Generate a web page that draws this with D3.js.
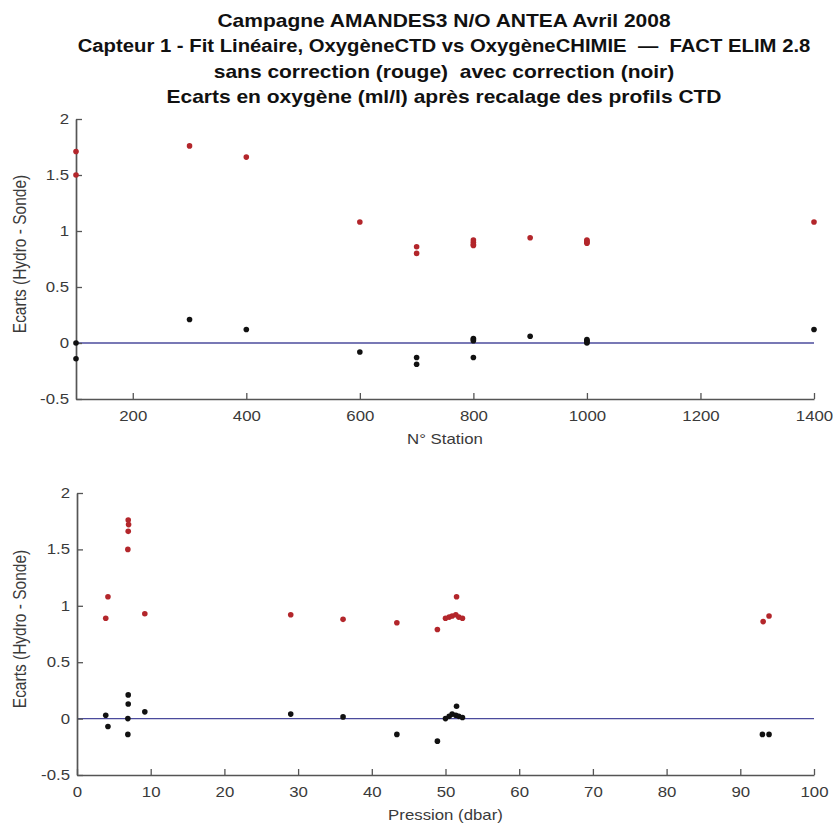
<!DOCTYPE html>
<html>
<head>
<meta charset="utf-8">
<script src="https://d3js.org/d3.v7.min.js"></script>
<style>
  body { margin: 0; background: #fff; }
  text { font-family: "Liberation Sans", Arial, sans-serif; white-space: pre; }
  .title { font-weight: bold; font-size: 17.5px; fill: #111; }
  .tick text { font-size: 14px; fill: #3a3a3a; }
  .axlabel { font-size: 14px; fill: #3a3a3a; }
</style>
</head>
<body>
<div id="chart"></div>
<script>
// titles
var titleLines = [
  "Campagne AMANDES3 N/O ANTEA Avril 2008",
  "Capteur 1 - Fit Linéaire, OxygèneCTD vs OxygèneCHIMIE  —  FACT ELIM 2.8",
  "sans correction (rouge)  avec correction (noir)",
  "Ecarts en oxygène (ml/l) après recalage des profils CTD"
];

// top panel: ecarts vs station number
var stationRed = [
  [100, 1.71], [100, 1.50], [300, 1.76], [400, 1.66], [600, 1.08],
  [700, 0.86], [700, 0.80], [800, 0.92], [800, 0.90], [800, 0.88], [800, 0.87],
  [900, 0.94], [1000, 0.92], [1000, 0.90], [1000, 0.89], [1000, 0.91], [1400, 1.08]
];
var stationBlack = [
  [100, 0.0], [100, -0.14], [300, 0.21], [400, 0.12], [600, -0.08],
  [700, -0.13], [700, -0.19], [800, 0.04], [800, 0.03], [800, 0.02], [800, -0.13],
  [900, 0.06], [1000, 0.03], [1000, 0.02], [1000, 0.01], [1000, 0.0], [1400, 0.12]
];

// bottom panel: ecarts vs pressure
var pressRed = [
  [6.95, 1.76], [7.0, 1.72], [6.95, 1.66], [6.9, 1.50], [4.2, 1.08], [3.9, 0.89], [9.2, 0.93],
  [29.0, 0.92], [36.1, 0.88], [43.4, 0.85], [48.9, 0.79], [51.5, 1.08],
  [50.0, 0.89], [50.5, 0.90], [50.9, 0.91], [51.4, 0.92], [51.8, 0.90], [52.3, 0.89],
  [93.1, 0.86], [93.9, 0.91]
];
var pressBlack = [
  [6.95, 0.21], [6.95, 0.13], [6.9, 0.0], [6.9, -0.14], [3.9, 0.03], [4.2, -0.07], [9.2, 0.06],
  [29.0, 0.04], [36.1, 0.015], [43.4, -0.14], [48.9, -0.20], [51.5, 0.11],
  [50.0, 0.0], [50.5, 0.02], [50.9, 0.04], [51.4, 0.03], [51.8, 0.02], [52.3, 0.01],
  [93.0, -0.14], [93.9, -0.14]
];

var yTicks = [-0.5, 0, 0.5, 1, 1.5, 2];
var stationTicks = [200, 400, 600, 800, 1000, 1200, 1400];
var pressTicks = [0, 10, 20, 30, 40, 50, 60, 70, 80, 90, 100];

var W = 833, H = 825;
var SX = 1.2; // the reference text is wide, stretch it horizontally
var svg = d3.select("#chart").append("svg")
    .attr("width", W).attr("height", H);

svg.selectAll(".title")
    .data(titleLines)
  .enter().append("text")
    .attr("class", "title")
    .attr("transform", function(d, i) {
        return "translate(444," + (27 + i * 25.3) + ") scale(" + (i == 1 ? 1.16 : SX) + ",1)";
    })
    .attr("text-anchor", "middle")
    .text(function(d) { return d; });

// move x/y of tick text into a transform so it can be stretched
function stretchTicks(axisG) {
    axisG.selectAll(".tick text").each(function() {
        var t = d3.select(this);
        var tx = +t.attr("x") || 0, ty = +t.attr("y") || 0;
        t.attr("x", null).attr("y", null)
         .attr("transform", "translate(" + tx + "," + ty + ") scale(" + SX + ",1)");
    });
}

function panel(opts) {
    var x = d3.scaleLinear().domain(opts.xDomain).range([opts.left, opts.right]);
    var y = d3.scaleLinear().domain([-0.5, 2]).range([opts.bottom, opts.top]);
    var g = svg.append("g");

    // zero line
    g.append("line")
        .attr("x1", x(opts.xDomain[0])).attr("x2", x(opts.xDomain[1]))
        .attr("y1", y(0)).attr("y2", y(0))
        .attr("stroke", "#4b4b9c").attr("stroke-width", 1.3);

    var xAxis = g.append("g")
        .attr("transform", "translate(0," + opts.bottom + ")")
        .call(d3.axisBottom(x).tickValues(opts.xTicks).tickSizeInner(-6).tickSizeOuter(0)
              .tickPadding(12).tickFormat(function(d) { return String(d); }));
    var yAxis = g.append("g")
        .attr("transform", "translate(" + opts.left + ",0)")
        .call(d3.axisLeft(y).tickValues(yTicks).tickSizeInner(-6).tickSizeOuter(0)
              .tickPadding(7).tickFormat(function(d) { return String(d); }));
    [xAxis, yAxis].forEach(function(a) {
        a.select(".domain").attr("stroke", "#555").attr("stroke-width", 1.7);
        a.selectAll(".tick line").attr("stroke", "#555").attr("stroke-width", 1.3);
        stretchTicks(a);
    });

    g.selectAll(".red").data(opts.red).enter().append("circle")
        .attr("cx", function(d) { return x(d[0]); })
        .attr("cy", function(d) { return y(d[1]); })
        .attr("r", 2.8).attr("fill", "#b3262b");
    g.selectAll(".blk").data(opts.black).enter().append("circle")
        .attr("cx", function(d) { return x(d[0]); })
        .attr("cy", function(d) { return y(d[1]); })
        .attr("r", 2.8).attr("fill", "#111");

    g.append("text").attr("class", "axlabel")
        .attr("transform", "translate(" + ((opts.left + opts.right) / 2) + "," + (opts.bottom + 45) + ") scale(" + SX + ",1)")
        .attr("text-anchor", "middle")
        .text(opts.xLabel);
    g.append("text").attr("class", "axlabel")
        .style("font-size", "15.5px")
        .attr("transform", "translate(26," + ((opts.top + opts.bottom) / 2 - 5) + ") rotate(-90) scale(1,1.2)")
        .attr("text-anchor", "middle")
        .text("Ecarts (Hydro - Sonde)");
}

panel({
    xDomain: [100, 1400], xTicks: stationTicks,
    left: 76, right: 814, top: 119, bottom: 399,
    red: stationRed, black: stationBlack, xLabel: "N° Station"
});
panel({
    xDomain: [0, 100], xTicks: pressTicks,
    left: 77, right: 814, top: 493, bottom: 775,
    red: pressRed, black: pressBlack, xLabel: "Pression (dbar)"
});
</script>
</body>
</html>
